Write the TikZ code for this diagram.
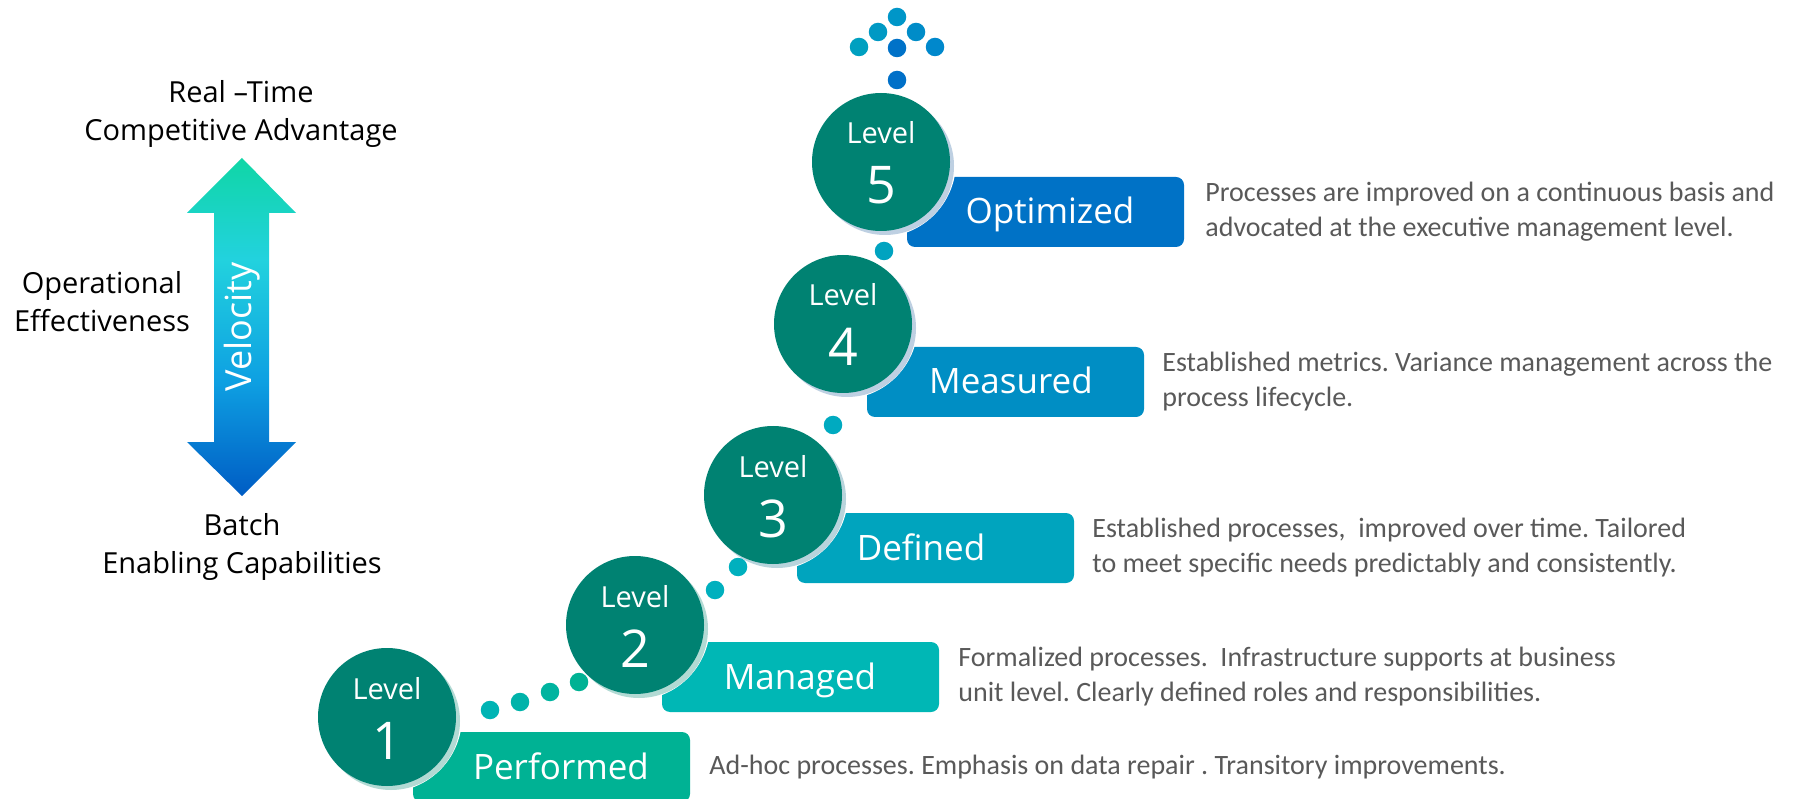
\documentclass[tikz,border=0pt]{standalone}
\usepackage{fontspec}
\setmainfont{Open Sans}
\newfontfamily\descfont{Carlito}
\usetikzlibrary{positioning}

\definecolor{lvlteal}{RGB}{0,130,114}
\definecolor{perfcol}{RGB}{0,178,148}
\definecolor{mngdcol}{RGB}{0,183,181}
\definecolor{defdcol}{RGB}{0,164,190}
\definecolor{meascol}{RGB}{0,142,196}
\definecolor{optmcol}{RGB}{0,114,198}
\definecolor{desctext}{RGB}{89,89,89}
\definecolor{shadegreen}{RGB}{178,218,212}
\definecolor{shadegrey}{RGB}{184,212,220}
\definecolor{shadeblue}{RGB}{190,208,226}
\definecolor{arrgreen}{RGB}{16,214,166}
\definecolor{arrcyan}{RGB}{34,210,222}
\definecolor{arrsky}{RGB}{14,160,226}
\definecolor{arrblue}{RGB}{0,92,196}

\pgfdeclareverticalshading{velshade}{100bp}{color(0bp)=(arrblue); color(25bp)=(arrblue); color(42bp)=(arrsky); color(60bp)=(arrcyan); color(75bp)=(arrgreen); color(100bp)=(arrgreen)}

\tikzset{
	lvlring/.style={circle, fill=white, minimum size=150pt, inner sep=0pt},
	lvlshadow/.style={circle, minimum size=138pt, inner sep=0pt},
	lvlcircle/.style={circle, fill=lvlteal, minimum size=138pt, inner sep=0pt},
	lvlword/.style={anchor=base, inner sep=0pt, text=white, font=\fontsize{29}{34}\selectfont},
	lvlnum/.style={anchor=base, inner sep=0pt, text=white, font=\fontsize{52}{60}\selectfont},
	stagebar/.style={rounded corners=8pt, minimum width=277pt, minimum height=70pt, inner sep=0pt},
	stagelabel/.style={inner sep=0pt, text=white, text height=24pt, text depth=0pt, font=\fontsize{35}{40}\selectfont},
	stagedesc/.style={align=left, inner sep=0pt, text=desctext, font=\descfont\fontsize{28}{35}\selectfont},
	sidetext/.style={anchor=north, align=center, inner sep=0pt, font=\fontsize{29}{38}\selectfont},
	pathdot/.style={circle, minimum size=18.5pt, inner sep=0pt}
}

\begin{document}
\frenchspacing
\begin{tikzpicture}[x=1pt,y=-1pt]

	\useasboundingbox (0,0) rectangle (1810,799);

	%Velocity arrow
	\shade[shading=velshade] (242,158) -- (296,213) -- (269,213) -- (269,442) -- (296,442) -- (242,496)
		-- (187,442) -- (214,442) -- (214,213) -- (187,213) -- cycle;
	\node[rotate=90, text=white, inner sep=0pt, font=\fontsize{36}{40}\selectfont] (vel) at (242,327) {Velocity};

	%Side labels
	\node[sidetext] (realtime) at (241,80) {Real –Time\\Competitive Advantage};
	\node[sidetext] (opeff) at (102,271) {Operational\\Effectiveness};
	\node[sidetext] (batch) at (242,513) {Batch\\Enabling Capabilities};

	%Stage bars
	\node[stagebar, fill=perfcol] (b1) at (551.5,767) {};
	\node[stagebar, fill=mngdcol] (b2) at (800.5,677) {};
	\node[stagebar, fill=defdcol] (b3) at (935.5,548) {};
	\node[stagebar, fill=meascol] (b4) at (1005.5,382) {};
	\node[stagebar, fill=optmcol] (b5) at (1045.5,212) {};
	\node[stagelabel] (t1) at (561,767) {Performed};
	\node[stagelabel] (t2) at (800,677) {Managed};
	\node[stagelabel] (t3) at (921,548) {Defined};
	\node[stagelabel] (t4) at (1011,382) {Measured};
	\node[stagelabel] (t5) at (1050,212) {Optimized};

	%Level circles
	\node[lvlring] (r1) at (387,717) {};
	\node[lvlring] (r2) at (635,625) {};
	\node[lvlring] (r3) at (773,495) {};
	\node[lvlring] (r4) at (843,324) {};
	\node[lvlring] (r5) at (881,162) {};
	\node[lvlshadow, fill=shadegreen] (s1) at (391,721) {};
	\node[lvlshadow, fill=shadegreen] (s2) at (639,629) {};
	\node[lvlshadow, fill=shadegrey] (s3) at (777,499) {};
	\node[lvlshadow, fill=shadeblue] (s4) at (847,328) {};
	\node[lvlshadow, fill=shadeblue] (s5) at (885,166) {};
	\node[lvlcircle] (c1) at (387,717) {};
	\node[lvlcircle] (c2) at (635,625) {};
	\node[lvlcircle] (c3) at (773,495) {};
	\node[lvlcircle] (c4) at (843,324) {};
	\node[lvlcircle] (c5) at (881,162) {};

	%Circle texts
	\node[lvlword] (w1) at (387,699) {Level};
	\node[lvlnum] (n1) at (387,759) {1};
	\node[lvlword] (w2) at (635,607) {Level};
	\node[lvlnum] (n2) at (635,667) {2};
	\node[lvlword] (w3) at (773,477) {Level};
	\node[lvlnum] (n3) at (773,537) {3};
	\node[lvlword] (w4) at (843,306) {Level};
	\node[lvlnum] (n4) at (843,366) {4};
	\node[lvlword] (w5) at (881,144) {Level};
	\node[lvlnum] (n5) at (881,204) {5};

	%Descriptions
	\node[stagedesc, right=19pt of b1] (d1) {Ad-hoc processes. Emphasis on data repair . Transitory improvements.};
	\node[stagedesc, right=19pt of b2] (d2) {Formalized processes.\ \ Infrastructure supports at business\\unit level. Clearly defined roles and responsibilities.};
	\node[stagedesc, right=18pt of b3] (d3) {Established processes,\ \ improved over time. Tailored\\to meet specific needs predictably and consistently.};
	\node[stagedesc, right=18pt of b4] (d4) {Established metrics. Variance management across the\\process lifecycle.};
	\node[stagedesc, right=21pt of b5] (d5) {Processes are improved on a continuous basis and\\advocated at the executive management level.};

	%Dots
	\node[pathdot, fill={rgb,255:red,0;green,180;blue,180}] (p1) at (490,710) {};
	\node[pathdot, fill={rgb,255:red,0;green,179;blue,170}] (p2) at (520,702) {};
	\node[pathdot, fill={rgb,255:red,0;green,180;blue,160}] (p3) at (550,692) {};
	\node[pathdot, fill={rgb,255:red,0;green,178;blue,148}] (p4) at (579,682) {};
	\node[pathdot, fill={rgb,255:red,0;green,176;blue,190}] (p5) at (715,590) {};
	\node[pathdot, fill={rgb,255:red,0;green,176;blue,190}] (p6) at (738,567) {};
	\node[pathdot, fill={rgb,255:red,0;green,170;blue,192}] (p7) at (833,425) {};
	\node[pathdot, fill={rgb,255:red,0;green,163;blue,192}] (p8) at (884,251) {};
	\node[pathdot, fill={rgb,255:red,0;green,112;blue,200}] (p9) at (897,80) {};
	\node[pathdot, fill={rgb,255:red,0;green,160;blue,192}] (p10) at (859,47) {};
	\node[pathdot, fill={rgb,255:red,0;green,114;blue,200}] (p11) at (897,48) {};
	\node[pathdot, fill={rgb,255:red,0;green,136;blue,204}] (p12) at (935,47) {};
	\node[pathdot, fill={rgb,255:red,0;green,153;blue,196}] (p13) at (878,32) {};
	\node[pathdot, fill={rgb,255:red,0;green,140;blue,200}] (p14) at (916,32) {};
	\node[pathdot, fill={rgb,255:red,0;green,150;blue,200}] (p15) at (897,17) {};

\end{tikzpicture}
\end{document}
